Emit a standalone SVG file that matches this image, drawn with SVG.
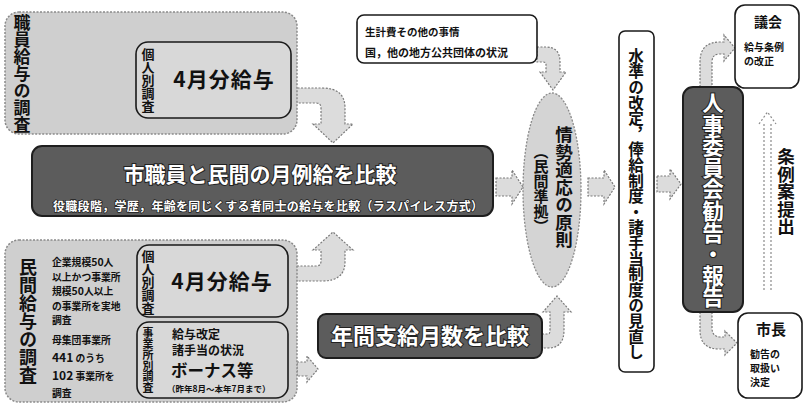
<svg xmlns="http://www.w3.org/2000/svg" width="806" height="405" viewBox="0 0 806 405">
<defs>
<style>
text{font-family:"Noto Sans CJK JP","Noto Sans CJK SC",sans-serif;fill:#111;}
.v{writing-mode:vertical-rl;}
.b{font-weight:bold;}
.s{font-size:9.8px;font-weight:bold;}
.outer{fill:#cfcfcf;stroke:#8a8a8a;stroke-width:1.5;stroke-dasharray:2 1.5;}
.inner{fill:#d8d8d8;stroke:#1a1a1a;stroke-width:1.6;}
.white{fill:#fff;stroke:#1a1a1a;stroke-width:1.6;}
.dark{fill:#5c5c5c;stroke:#1e1e1e;stroke-width:2;}
.wt{fill:#fff;stroke:#222;stroke-width:2;paint-order:stroke;font-weight:bold;}
.arr{fill:#dcdcdc;stroke:#7a7a7a;stroke-width:1.2;stroke-dasharray:2 1.5;}
.ell{fill:#d4d4d4;stroke:#8a8a8a;stroke-width:1.3;stroke-dasharray:2 1.5;}
.thin{fill:none;stroke:#8a8a8a;stroke-width:1.2;stroke-dasharray:2 2;}
</style>
</defs>

<g id="connectors">
<path class="arr" d="M294,88 L322,88 Q345,88 345,108 L345,124 L353,124 L333,143 L313,124 L321,124 L321,108 Q321,103 316,103 L294,103 Z"/>
<path class="arr" d="M290,266 L316,266 Q321,266 321,261 L321,250 L313,250 L333,232 L353,250 L345,250 L345,262 Q345,281 322,281 L290,281 Z"/>
<path class="arr" d="M297,362 L307,362 L307,356 L318,369 L307,382 L307,376 L297,376 Z"/>
<path class="arr" d="M496,178 L512,178 L512,170 L523,187 L512,204 L512,196 L496,196 Z"/>
<path class="arr" d="M588,178 L604,178 L604,170 L615,187 L604,204 L604,196 L588,196 Z"/>
<path class="arr" d="M657,176 L670,176 L670,169 L681,184 L670,199 L670,192 L657,192 Z"/>
<path class="arr" d="M537,47 L546,47 Q560,47 560,62 L560,72 L566,72 L553,90 L540,72 L546,72 L546,64 Q546,62 543,62 L537,62 Z"/>
<path class="arr" d="M542,334 L548,334 Q550,334 550,330 L550,312 L543,312 L557,296 L571,312 L564,312 L564,330 Q564,348 548,348 L542,348 Z"/>
<path class="arr" d="M700,87 L700,62 Q700,42 720,42 L724,42 L724,35 L735,48 L724,61 L724,54 L720,54 Q712,54 712,62 L712,87 Z"/>
<path class="arr" d="M700,312 L700,330 Q700,349 719,349 L725,349 L725,355 L737,343 L725,331 L725,337 L721,337 Q712,337 712,328 L712,312 Z"/>
<path class="thin" d="M764,290 L764,122 M771,290 L771,122 M759,124 L767.5,112 L776,124"/>
</g>

<g id="staff-survey">
<rect class="outer" x="5" y="12" width="292" height="122" rx="14"/>
<text class="v b" x="22" y="14" font-size="17">職員給与の調査</text>
</g>
<g id="staff-individual">
<rect class="inner" x="136" y="42" width="155" height="76" rx="12"/>
<text class="v b" x="148" y="48" font-size="13">個人別調査</text>
<text class="b" x="224" y="87" font-size="21" text-anchor="middle" letter-spacing="1">4月分給与</text>
</g>

<g id="monthly-compare">
<rect class="dark" x="32" y="146" width="461" height="70" rx="10"/>
<text class="wt" x="260" y="182" font-size="21" text-anchor="middle">市職員と民間の月例給を比較</text>
<text class="wt" x="53" y="211" font-size="12" textLength="430" style="stroke-width:1.5">役職段階，学歴，年齢を同じくする者同士の給与を比較（ラスパイレス方式）</text>
</g>

<g id="private-survey">
<rect class="outer" x="5" y="240" width="292" height="162" rx="14"/>
<text class="v b" x="28" y="258" font-size="18">民間給与の調査</text>
<text class="s" x="52" y="266">企業規模<tspan font-size="10.5">50</tspan>人</text>
<text class="s" x="52" y="280.5">以上かつ事業所</text>
<text class="s" x="52" y="295">規模<tspan font-size="10.5">50</tspan>人以上</text>
<text class="s" x="52" y="309.5">の事業所を実地</text>
<text class="s" x="52" y="324">調査</text>
<text class="s" x="52" y="344">母集団事業所</text>
<text class="s" x="52" y="362"><tspan font-size="12">441</tspan> のうち</text>
<text class="s" x="52" y="380"><tspan font-size="12">102</tspan> 事業所を</text>
<text class="s" x="52" y="397">調査</text>
</g>
<g id="private-individual">
<rect class="inner" x="137" y="245" width="151" height="72" rx="12"/>
<text class="v b" x="148" y="250" font-size="13">個人別調査</text>
<text class="b" x="222" y="289" font-size="21" text-anchor="middle" letter-spacing="1">4月分給与</text>
</g>
<g id="private-office">
<rect class="inner" x="137" y="322" width="151" height="76" rx="12"/>
<text class="v b" x="148" y="327" font-size="11">事業所別調査</text>
<text class="b" x="172" y="339" font-size="12">給与改定</text>
<text class="b" x="172" y="355" font-size="12">諸手当の状況</text>
<text class="b" x="171" y="377" font-size="16.5">ボーナス等</text>
<text class="b" x="167" y="392" font-size="8.5">（昨年8月～本年7月まで）</text>
</g>

<g id="annual-compare">
<rect class="dark" x="318" y="314" width="224" height="44" rx="8"/>
<text class="wt" x="430" y="344" font-size="22" text-anchor="middle">年間支給月数を比較</text>
</g>

<g id="other-factors">
<rect class="white" x="357" y="15" width="180" height="48" rx="7"/>
<text class="b" x="365" y="36" font-size="10.5">生計費その他の事情</text>
<text class="b" x="365" y="57" font-size="11">国，他の地方公共団体の状況</text>
</g>

<g id="principle">
<ellipse class="ell" cx="552" cy="190" rx="29" ry="97"/>
<text class="v b" x="564" y="126" font-size="17.5">情勢適応の原則</text>
<text class="v b" x="541" y="144" font-size="15">（民間準拠）</text>
</g>

<g id="revision">
<rect class="white" x="619" y="31" width="35" height="341" rx="6"/>
<text class="v b" x="636" y="48" font-size="15.6">水準の改定，俸給制度・諸手当制度の見直し</text>
</g>

<g id="recommendation">
<rect class="dark" x="683" y="87" width="60" height="225" rx="10"/>
<text class="v wt" x="713" y="92" font-size="21.6">人事委員会勧告・報告</text>
</g>

<g id="assembly">
<rect class="white" x="735" y="5" width="64" height="83" rx="10"/>
<text class="b" x="768" y="27" font-size="14" text-anchor="middle">議会</text>
<text class="b" x="744" y="51" font-size="10">給与条例</text>
<text class="b" x="744" y="65" font-size="10">の改正</text>
</g>

<g id="mayor">
<rect class="white" x="738" y="313" width="64" height="85" rx="10"/>
<text class="b" x="771" y="335" font-size="15" text-anchor="middle">市長</text>
<text class="b" x="750" y="358" font-size="10">勧告の</text>
<text class="b" x="750" y="372" font-size="10">取扱い</text>
<text class="b" x="750" y="386" font-size="10">決定</text>
</g>

<g id="bill-label">
<text class="v b" x="786" y="148" font-size="17.5">条例案提出</text>
</g>
</svg>
